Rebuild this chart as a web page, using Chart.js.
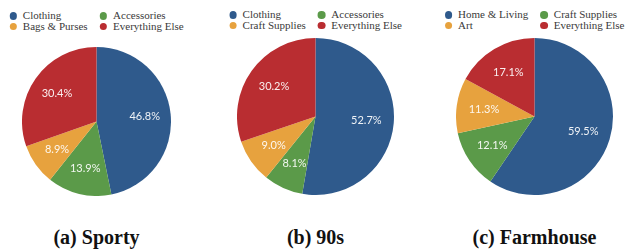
<!DOCTYPE html>
<html>
<head>
<meta charset="utf-8">
<script src="https://cdn.jsdelivr.net/npm/chart.js@4.4.0/dist/chart.umd.min.js"></script>
<style>
body { margin: 0; background: #fff; width: 630px; height: 252px; position: relative; overflow: hidden; }
.leg { position: absolute; top: 9px; transform: translateX(-50%); display: grid; grid-template-columns: auto auto; column-gap: 12px;
       font: 11px "Liberation Serif"; color: #3a3a3a; line-height: 10.5px; }
.leg div { white-space: nowrap; }
.dot { display: inline-block; width: 7.5px; height: 7.5px; border-radius: 50%; margin-right: 6px; vertical-align: -0.5px; }
canvas { position: absolute; }
.cap { position: absolute; top: 226px; transform: translateX(-50%); font: bold 20px "Liberation Serif"; color: #111; white-space: nowrap; }
</style>
</head>
<body>
<script>
// dados
var titles = ['(a) Sporty', '(b) 90s', '(c) Farmhouse'];

var sportyLabels = ['Clothing', 'Accessories', 'Bags & Purses', 'Everything Else'];
var sportyValues = [46.8, 13.9, 8.9, 30.4];

var ninetiesLabels = ['Clothing', 'Accessories', 'Craft Supplies', 'Everything Else'];
var ninetiesValues = [52.7, 8.1, 9.0, 30.2];

var farmLabels = ['Home & Living', 'Craft Supplies', 'Art', 'Everything Else'];
var farmValues = [59.5, 12.1, 11.3, 17.1];

var colors = ['#2f5a8c', '#5b9a49', '#e7a23e', '#b92d31'];

// rotulos de porcentagem dentro das fatias
var pctLabels = {
    id: 'pctLabels',
    afterDatasetsDraw: function(chart) {
        var ctx = chart.ctx;
        var vals = chart.data.datasets[0].data;
        ctx.save();
        ctx.font = '11px Lato';
        ctx.fillStyle = 'rgba(255,255,255,0.92)';
        ctx.textAlign = 'center';
        ctx.textBaseline = 'middle';
        chart.getDatasetMeta(0).data.forEach(function(arc, i) {
            var p = arc.getProps(['x', 'y', 'startAngle', 'endAngle', 'outerRadius'], true);
            var a = (p.startAngle + p.endAngle) / 2;
            var d = p.outerRadius * 0.65;
            ctx.fillText(vals[i].toFixed(1) + '%', p.x + Math.cos(a) * d, p.y + Math.sin(a) * d);
        });
        ctx.restore();
    }
};

var charts = [
    { labels: sportyLabels, values: sportyValues, cx: 96.5, cy: 121.5, size: 149, legTop: 10 },
    { labels: ninetiesLabels, values: ninetiesValues, cx: 315.5, cy: 116.5, size: 157, legTop: 9 },
    { labels: farmLabels, values: farmValues, cx: 534.5, cy: 116.5, size: 157, legTop: 9 }
];

charts.forEach(function(c, k) {
    // legenda
    var leg = document.createElement('div');
    leg.className = 'leg';
    leg.style.left = c.cx + 'px';
    leg.style.top = c.legTop + 'px';
    c.labels.forEach(function(l, i) {
        var it = document.createElement('div');
        var dot = document.createElement('span');
        dot.className = 'dot';
        dot.style.background = colors[i];
        it.appendChild(dot);
        it.appendChild(document.createTextNode(l));
        leg.appendChild(it);
    });
    document.body.appendChild(leg);

    // grafico de pizza
    var cv = document.createElement('canvas');
    cv.width = c.size;
    cv.height = c.size;
    cv.style.left = (c.cx - c.size / 2) + 'px';
    cv.style.top = (c.cy - c.size / 2) + 'px';
    document.body.appendChild(cv);
    new Chart(cv.getContext('2d'), {
        type: 'pie',
        data: {
            labels: c.labels,
            datasets: [{ data: c.values, backgroundColor: colors, borderWidth: 0 }]
        },
        options: {
            responsive: false,
            animation: false,
            plugins: { legend: { display: false }, tooltip: { enabled: false } }
        },
        plugins: [pctLabels]
    });

    // legenda abaixo
    var cap = document.createElement('div');
    cap.className = 'cap';
    cap.style.left = c.cx + 'px';
    cap.textContent = titles[k];
    document.body.appendChild(cap);
});
</script>
</body>
</html>
